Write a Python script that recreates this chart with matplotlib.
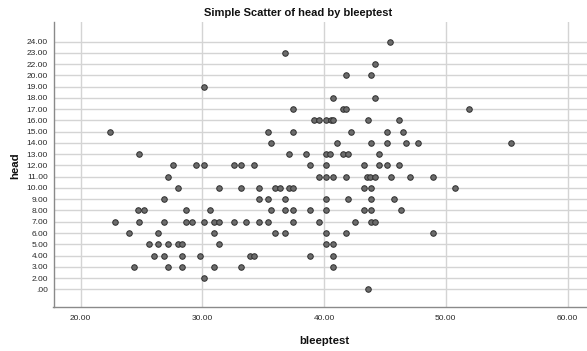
import matplotlib
matplotlib.use("Agg")
import matplotlib.pyplot as plt

# ---- data ----
head_categories = [0, 2, 3, 4, 5, 6, 7, 8, 9, 10, 11, 12, 13, 14, 15, 16, 17, 18, 19, 20, 22, 23, 24]
head_tick_labels = [".00"] + ["%.2f" % v for v in head_categories[1:]]
x_ticks = [20, 30, 40, 50, 60]
x_tick_labels = ["20.00", "30.00", "40.00", "50.00", "60.00"]

rows = {
    24: [45.4],
    23: [36.78],
    22: [44.17],
    20: [41.79, 43.89],
    19: [30.18],
    18: [40.77, 44.17],
    17: [37.49, 41.52, 41.79, 51.89],
    16: [39.19, 39.60, 40.17, 40.58, 40.77, 43.6, 46.15],
    15: [22.38, 35.41, 37.49, 42.2, 45.18, 46.5],
    14: [35.68, 41.1, 43.89, 45.18, 46.77, 47.7, 55.36],
    13: [24.82, 37.11, 38.5, 40.17, 40.5, 41.52, 42.0, 44.49],
    12: [27.61, 29.5, 30.18, 32.59, 33.19, 34.28, 38.88, 40.17, 43.29, 44.49, 45.18, 46.19],
    11: [27.2, 39.57, 40.17, 40.77, 41.79, 43.51, 43.81, 44.17, 45.48, 47.09, 48.98],
    10: [28.0, 31.41, 33.19, 34.70, 36.01, 36.40, 37.11, 37.49, 43.29, 43.89, 50.76],
    9: [26.82, 34.70, 35.41, 36.81, 40.17, 42.0, 43.89, 45.76],
    8: [24.76, 25.23, 28.70, 30.62, 35.68, 36.81, 37.49, 38.88, 40.17, 43.29, 43.89, 46.35],
    7: [22.82, 24.82, 26.82, 28.70, 29.15, 30.18, 31.0, 31.41, 32.59, 33.60, 34.70, 35.41,
        37.49, 39.57, 42.58, 43.89, 44.19],
    6: [24.0, 26.40, 31.0, 36.01, 36.81, 40.17, 41.79, 48.98],
    5: [25.61, 26.40, 27.20, 28.0, 28.35, 31.41, 40.17, 40.77],
    4: [26.02, 26.82, 28.35, 29.83, 33.91, 34.28, 38.88, 40.77],
    3: [24.41, 27.2, 28.35, 31.0, 33.19, 40.77],
    2: [30.18],
    0: [43.6],
}
bleeptest = [x for h, xs in rows.items() for x in xs]
head = [h for h, xs in rows.items() for x in xs]

# ---- figure ----
plt.rcParams['font.family'] = ['Liberation Sans', 'DejaVu Sans']
fig = plt.figure(figsize=(5.87, 3.51), dpi=100)
ax = fig.add_axes([53.5 / 587, 1 - 307 / 351, (587 - 53.5) / 587, (307 - 22) / 351])

cat_index = {c: i for i, c in enumerate(head_categories)}
ypos = [cat_index[h] for h in head]

ax.set_axisbelow(True)
ax.scatter(bleeptest, ypos, s=16, facecolor="#6b6b6b", edgecolor="#2f2f2f",
           linewidths=0.7, zorder=3)

ax.set_xlim(17.78, 61.6)
ax.set_ylim(-1.57, 23.74)
ax.set_xticks(x_ticks)
ax.set_xticklabels(x_tick_labels)
ax.set_yticks(range(len(head_categories)))
ax.set_yticklabels(head_tick_labels)

ax.grid(True, color="#d4d4d4", linewidth=1.0)
for s in ["top", "right"]:
    ax.spines[s].set_visible(False)
for s in ["left", "bottom"]:
    ax.spines[s].set_color("#8a8a8a")
    ax.spines[s].set_linewidth(1.0)

ax.tick_params(axis="both", length=0, labelsize=6.0, colors="#2a2a2a")
ax.tick_params(axis="y", pad=4)
ax.tick_params(axis="x", pad=6)

fig.text(0.508, 0.964, "Simple Scatter of head by bleeptest", ha="center", va="center",
         fontsize=8.0, fontweight="bold", color="#111111")
fig.text(324 / 587, 1 - 341 / 351, "bleeptest", ha="center", va="center",
         fontsize=8.2, fontweight="bold", color="#111111")
fig.text(15 / 587, 1 - 166 / 351, "head", ha="center", va="center", rotation=90,
         fontsize=8.2, fontweight="bold", color="#111111")

fig.savefig("out.png", dpi=100)
